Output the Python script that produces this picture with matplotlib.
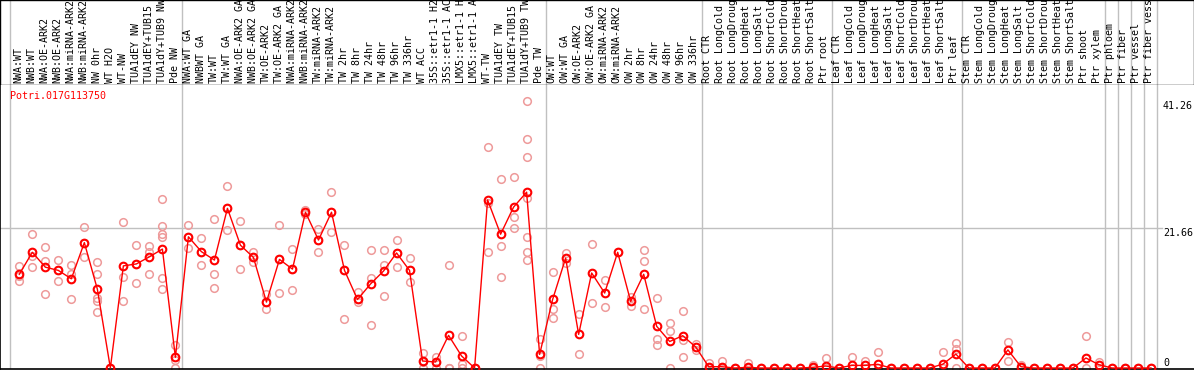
import matplotlib
matplotlib.use('Agg')
import matplotlib.pyplot as plt

# sample labels (one column each)
labels = ["NWA:WT", "NWB:WT", "NWA:OE-ARK2", "NWB:OE-ARK2", "NWA:miRNA-ARK2", "NWB:miRNA-ARK2",
          "NW 0hr", "WT H2O", "WT-NW", "TUA1dEY NW", "TUA1dEY+TUB15 NW", "TUA1dY+TUB9 NW", "Pde NW",
          "NWA:WT GA", "NWBWT GA", "TW:WT", "TW:WT GA", "NWA:OE-ARK2 GA", "NWB:OE-ARK2 GA",
          "TW:OE-ARK2", "TW:OE-ARK2 GA", "NWA:miRNA-ARK2 GA", "NWB:miRNA-ARK2 GA", "TW:miRNA-ARK2",
          "TW:miRNA-ARK2", "TW 2hr", "TW 8hr", "TW 24hr", "TW 48hr", "TW 96hr", "TW 336hr", "WT ACC",
          "35S::etr1-1 H2O", "35S::etr1-1 ACC", "LMX5::etr1-1 H2O", "LMX5::etr1-1 ACC", "WT-TW",
          "TUA1dEY TW", "TUA1dEY+TUB15 TW", "TUA1dY+TUB9 TW", "Pde TW",
          "OW:WT", "OW:WT GA", "OW:OE-ARK2", "OW:OE-ARK2 GA", "OW:miRNA-ARK2", "OW:miRNA-ARK2",
          "OW 2hr", "OW 8hr", "OW 24hr", "OW 48hr", "OW 96hr", "OW 336hr",
          "Root CTR", "Root LongCold", "Root LongDrought", "Root LongHeat", "Root LongSalt",
          "Root ShortCold", "Root ShortDrought", "Root ShortHeat", "Root ShortSalt", "Ptr root",
          "Leaf CTR", "Leaf LongCold", "Leaf LongDrought", "Leaf LongHeat", "Leaf LongSalt",
          "Leaf ShortCold", "Leaf ShortDrought", "Leaf ShortHeat", "Leaf ShortSalt", "Ptr leaf",
          "Stem CTR", "Stem LongCold", "Stem LongDrought", "Stem LongHeat", "Stem LongSalt",
          "Stem ShortCold", "Stem ShortDrought", "Stem ShortHeat", "Stem ShortSalt", "Ptr shoot",
          "Ptr xylem", "Ptr phloem", "Ptr fiber", "Ptr vessel", "Ptr fiber vessel"]

# mean expression per sample
means = [14.5, 17.9, 15.6, 15.1, 13.8, 19.4, 12.2, 0, 15.8, 16.1, 17.2, 18.4, 1.65,
         20.3, 18.0, 16.7, 24.7, 19.0, 17.1, 10.2, 16.8, 15.3, 24.1, 19.8, 24.1, 15.1, 10.6,
         13.0, 15.0, 17.8, 15.1, 1.08, 0.93, 5.05, 1.86, 0, 26.0, 20.7, 24.9, 27.2, 2.1,
         10.6, 17.0, 5.2, 14.7, 11.6, 17.9, 10.3, 14.5, 6.45, 4.1, 5.0, 3.25,
         0.2, 0.2, 0, 0.1, 0, 0, 0, 0, 0.1, 0.3,
         0, 0.4, 0.4, 0.57, 0, 0, 0, 0, 0.6, 2.15,
         0, 0, 0, 2.8, 0.2, 0, 0, 0, 0, 1.55,
         0.5, 0, 0, 0, 0]

# replicate values per sample
replicates = [[15.8, 14.3, 13.5], [20.8, 17.3, 15.6], [18.7, 16.6, 11.4], [16.7, 15.1, 13.5],
              [15.9, 14.6, 10.7], [21.8, 19.3, 17.2], [16.4, 14.5, 10.9, 10.4, 8.7], [0, 0],
              [22.6, 14.1, 10.4], [19.0, 16.1, 13.1], [18.9, 17.9, 14.5],
              [26.1, 22.0, 20.7, 20.3, 13.9, 12.2], [3.6, 1.3, 0],
              [22.1, 20.3, 18.5], [20.1, 18.0, 15.9], [23.0, 14.6, 12.3], [28.1, 24.7, 21.3],
              [22.7, 19.0, 15.3], [17.9, 17.1, 16.4], [11.4, 10.2, 9.1], [22.1, 16.8, 11.6],
              [18.4, 15.3, 12.1], [24.4, 23.8], [21.5, 19.8, 18.0], [27.2, 24.1, 21.0],
              [19.0, 15.1, 7.6], [11.8, 10.6, 10.2], [18.2, 13.9, 6.6], [18.2, 15.9, 11.1],
              [19.8, 17.8, 15.7], [17.0, 15.1, 13.3], [2.3, 0.9, 0], [1.75, 1.0, 0],
              [15.9, 0, 0], [4.95, 0.6, 0], [0, 0], [34.2, 25.6, 18.0], [29.3, 18.9, 14.1],
              [29.5, 23.3, 21.6], [41.26, 35.5, 32.7, 26.3, 20.3, 18.0, 16.7], [4.5, 1.8, 0],
              [14.8, 9.2, 7.7], [17.8, 16.2], [8.3, 2.1], [19.2, 10.0], [13.6, 9.5], [17.9],
              [11.0, 9.6], [18.2, 16.5, 9.1], [10.9, 4.5, 3.5], [6.9, 5.7, 0], [8.8, 4.4, 1.65],
              [3.7, 2.8],
              [0.8, 0], [1.1, 0], [0, 0], [0.7, 0], [0, 0], [0, 0], [0, 0], [0, 0], [0.4, 0], [1.5, 0],
              [0, 0], [1.65, 0], [1.1, 0], [2.5, 0], [0, 0], [0, 0], [0, 0], [0, 0], [2.5, 0],
              [3.8, 2.9, 0],
              [0, 0], [0, 0], [0, 0], [4.0, 1.1], [0.4, 0], [0, 0], [0, 0], [0, 0], [0, 0], [4.95, 0],
              [0.9, 0], [0, 0], [0, 0], [0, 0], [0, 0]]

separators = [-0.7, 12.5, 40.5, 52.5, 62.5, 72.5, 83.5, 84.5, 85.5, 86.5, 87.5]
yticks = [0, 21.66, 41.26]
gene = "Potri.017G113750"

W, H = 1194, 370
fig = plt.figure(figsize=(W / 100, H / 100), dpi=100)
mono = 'DejaVu Sans Mono'
fs = 7.2
grey = '#c0c0c0'

xmin = -19.3 / 13.008
xmax = (W - 19.3) / 13.008
ppu = 140 / 21.66  # pixels per unit

# header with sample names
hdr = fig.add_axes([0, (H - 85) / H, 1193.5 / W, 85 / H])
hdr.set_xlim(xmin, xmax * W / 1193.5)
hdr.set_ylim(0, 85)
hdr.set_xticks([])
hdr.set_yticks([])
for s in hdr.spines.values():
    s.set_color('black')
    s.set_linewidth(1.0)
for sx in separators:
    hdr.axvline(sx, color=grey, lw=1.0, zorder=0)
for i, lab in enumerate(labels):
    hdr.text(i - 0.05, 2, lab, rotation=90, ha='center', va='bottom', family=mono,
             fontsize=fs, clip_on=True)

# main plot
ax = fig.add_axes([0, 1 / H, 1, (H - 86) / H])
ax.set_xlim(xmin, xmax)
ax.set_ylim(-1 / ppu, (H - 87) / ppu)
ax.set_xticks([])
ax.set_yticks([])
ax.spines['right'].set_visible(False)
ax.spines['top'].set_visible(False)
for s in ['left', 'bottom']:
    ax.spines[s].set_linewidth(1.2)
for sx in separators:
    ax.axvline(sx, color=grey, lw=1.0, zorder=0)
ax.axhline(yticks[1], xmin=0, xmax=1162 / W, color=grey, lw=1.0, zorder=0)

for i, reps in enumerate(replicates):
    ax.plot([i] * len(reps), reps, 'o', ms=5.5, mfc='none', mec='#ee9a9a', mew=1.1,
            zorder=2, clip_on=False)
x = list(range(len(means)))
ax.plot(x, means, '-', color='red', lw=1.0, zorder=3)
ax.plot(x, means, 'o', ms=5.5, mfc='none', mec='red', mew=1.5, zorder=4, clip_on=False)

ax.text(10 / W, 1 - 6 / (H - 86), gene, transform=ax.transAxes, color='red',
        family=mono, fontsize=fs, ha='left', va='top')

for v in yticks:
    ax.text(1163 / W, v, "0" if v == 0 else f"{v:.2f}",
            transform=ax.get_yaxis_transform(), family=mono, fontsize=fs,
            ha='left', va='bottom' if v == 0 else 'top')

fig.savefig('out.png', dpi=100)
